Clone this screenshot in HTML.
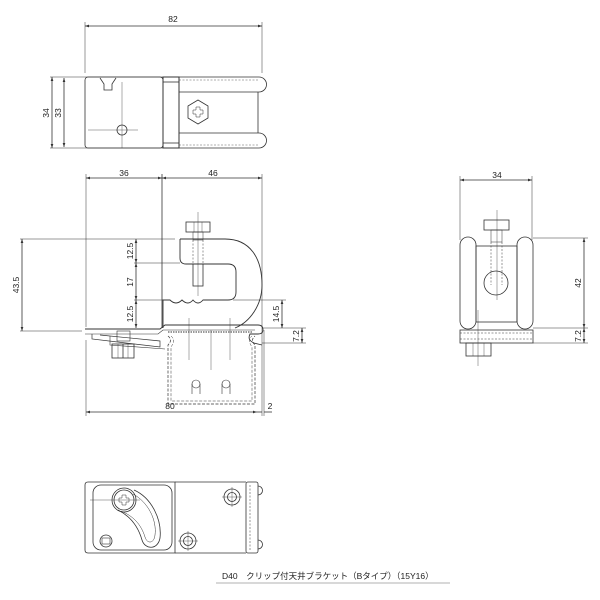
<!DOCTYPE html>
<html><head><meta charset="utf-8"><style>
html,body{margin:0;padding:0;background:#fff;}
svg{display:block;}
text{font-family:"Liberation Sans","Noto Sans CJK JP",sans-serif;font-size:8.5px;fill:#222;}
</style></head><body>
<svg width="600" height="600" viewBox="0 0 600 600" xmlns="http://www.w3.org/2000/svg">
<defs>
<marker id="a" viewBox="0 0 6 6" refX="6" refY="3" markerWidth="5" markerHeight="5" orient="auto-start-reverse"><path d="M0,1 L6,3 L0,5" fill="#333"/></marker>
</defs>
<g stroke="#333" stroke-width="0.8" fill="none">
<!-- ========== TOP VIEW ========== -->
<line x1="85" y1="26" x2="262" y2="26" marker-start="url(#a)" marker-end="url(#a)"/>
<line x1="85" y1="22" x2="85" y2="73" stroke-width="0.5"/>
<line x1="262" y1="22" x2="262" y2="73" stroke-width="0.5"/>
<line x1="50" y1="77" x2="163" y2="77" stroke-width="0.5"/>
<line x1="50" y1="148" x2="163" y2="148" stroke-width="0.5"/>
<line x1="52" y1="77" x2="52" y2="148" marker-start="url(#a)" marker-end="url(#a)"/>
<line x1="64" y1="78" x2="64" y2="147" marker-start="url(#a)" marker-end="url(#a)"/>
<rect x="85" y="77" width="78" height="71" rx="3"/>
<path d="M100,78 L104,84 L104,90 L112,90 L112,84 L116,78"/>
<circle cx="122" cy="130" r="5"/>
<line x1="122" y1="82" x2="122" y2="148" stroke-width="0.4"/>
<line x1="88" y1="130" x2="138" y2="130" stroke-width="0.4"/>
<rect x="163" y="77" width="16" height="71" stroke-width="1"/>
<line x1="163" y1="82" x2="179" y2="82"/>
<line x1="163" y1="143" x2="179" y2="143"/>
<path d="M179,77 L259,77 A6,6 0 0 1 259,92 L179,92"/>
<path d="M179,133 L259,133 A6,6 0 0 1 259,148 L179,148"/>
<line x1="258" y1="92" x2="258" y2="133"/>
<line x1="179" y1="80" x2="259" y2="80" stroke-dasharray="2,1.5" stroke-width="0.4"/>
<line x1="179" y1="145" x2="259" y2="145" stroke-dasharray="2,1.5" stroke-width="0.4"/>
<polygon points="198,100 208,106 208,118 198,124 188,118 188,106"/>
<path d="M196,107 h4 v3 h3 v4 h-3 v3 h-4 v-3 h-3 v-4 h3 z" stroke-width="0.5"/>
<!-- ========== FRONT VIEW ========== -->
<line x1="86" y1="178" x2="162" y2="178" marker-start="url(#a)" marker-end="url(#a)"/>
<line x1="162" y1="178" x2="262" y2="178" marker-start="url(#a)" marker-end="url(#a)"/>
<line x1="86" y1="174" x2="86" y2="327" stroke-width="0.5"/>
<line x1="86" y1="340" x2="86" y2="416" stroke-width="0.5"/>
<line x1="262" y1="174" x2="262" y2="416" stroke-width="0.5"/>
<line x1="264" y1="330" x2="264" y2="416" stroke-width="0.5"/>
<line x1="162" y1="174" x2="162" y2="328" stroke-width="0.8"/>
<line x1="86" y1="412" x2="257" y2="412" marker-start="url(#a)" marker-end="url(#a)"/>
<line x1="257" y1="412" x2="262" y2="412"/>
<line x1="264" y1="412" x2="272" y2="412"/>
<line x1="20" y1="239" x2="175" y2="239" stroke-width="0.5"/>
<line x1="20" y1="331" x2="82" y2="331" stroke-width="0.5"/>
<line x1="22" y1="239" x2="22" y2="331" marker-start="url(#a)" marker-end="url(#a)"/>
<line x1="134" y1="263" x2="180" y2="263" stroke-width="0.5"/>
<line x1="134" y1="300" x2="163" y2="300" stroke-width="0.5"/>
<line x1="136" y1="239" x2="136" y2="263" marker-start="url(#a)" marker-end="url(#a)"/>
<line x1="136" y1="263" x2="136" y2="300" marker-start="url(#a)" marker-end="url(#a)"/>
<line x1="136" y1="300" x2="136" y2="328" marker-start="url(#a)" marker-end="url(#a)"/>
<line x1="233" y1="300" x2="286" y2="300" stroke-width="0.5"/>
<line x1="262" y1="328" x2="306" y2="328" stroke-width="0.5"/>
<line x1="262" y1="343" x2="306" y2="343" stroke-width="0.5"/>
<line x1="282" y1="300" x2="282" y2="328" marker-start="url(#a)" marker-end="url(#a)"/>
<line x1="302" y1="328" x2="302" y2="343" marker-start="url(#a)" marker-end="url(#a)"/>
<!-- clamp -->
<path d="M180,239 L225,239 C250,239 262,258 262,285 C262,305 250,322 235,328" stroke-width="0.9"/>
<path d="M180,239 L180,258 Q180,264 186,264 L228,264 Q236,264 236,272 L236,292 Q236,300 228,300 L203,300 Q198,306 193,300 Q188,306 182,300 Q176,306 170,300 L163,300 L163,328" stroke-width="0.9"/>
<rect x="186" y="222" width="24" height="10"/>
<line x1="194" y1="222" x2="194" y2="232" stroke-width="0.4"/><line x1="202" y1="222" x2="202" y2="232" stroke-width="0.4"/>
<rect x="193" y="232" width="10" height="8" stroke-width="0.5"/>
<rect x="193" y="264" width="10" height="22"/>
<line x1="193" y1="240" x2="193" y2="264" stroke-dasharray="2,1.5" stroke-width="0.5"/>
<line x1="203" y1="240" x2="203" y2="264" stroke-dasharray="2,1.5" stroke-width="0.5"/>
<line x1="198" y1="212" x2="198" y2="296" stroke-width="0.4"/>
<!-- base -->
<path d="M85,329 L160,329 L165,325 L258,325 Q263,325 263,330 Q263,334 258,334 L250,334 Q247,340 254,343 L262,345" stroke-width="0.9"/>
<path d="M85,334 L158,334 L163,330 L255,330" stroke-width="0.6"/>
<path d="M92,334 L92,339 L160,347 L160,341 L100,335" stroke-width="0.7"/>
<path d="M110,336 L110,345 L165,349" stroke-width="0.6"/>
<line x1="168" y1="332" x2="252" y2="332" stroke-dasharray="1.5,1" stroke-width="2" stroke="#999"/>
<rect x="117" y="331" width="13" height="10" stroke-width="0.6"/>
<rect x="112" y="344" width="22" height="14"/>
<line x1="118" y1="344" x2="118" y2="358" stroke-width="0.4"/><line x1="123" y1="344" x2="123" y2="358"/><line x1="128" y1="344" x2="128" y2="358" stroke-width="0.4"/>
<path d="M168,336 Q173,340 168,345 L168,404 L255,404 L255,345 Q250,340 255,336" stroke-dasharray="3,1.5" stroke-width="0.7"/>
<path d="M171,336 Q176,340 171,347 L171,401 L252,401 L252,347 Q247,340 252,336" stroke-dasharray="3,1.5" stroke-width="0.5"/>
<circle cx="196" cy="384" r="4" stroke-width="0.6"/><circle cx="226" cy="384" r="4" stroke-width="0.6"/>
<line x1="192" y1="384" x2="192" y2="394" stroke-width="0.6"/><line x1="200" y1="384" x2="200" y2="394" stroke-width="0.6"/>
<line x1="222" y1="384" x2="222" y2="394" stroke-width="0.6"/><line x1="230" y1="384" x2="230" y2="394" stroke-width="0.6"/>
<line x1="211" y1="330" x2="211" y2="370" stroke-width="0.4"/>
<line x1="189" y1="318" x2="189" y2="360" stroke-width="0.4"/>
<line x1="230" y1="318" x2="230" y2="360" stroke-width="0.4"/>
<!-- ========== SIDE VIEW ========== -->
<line x1="460" y1="180" x2="532" y2="180" marker-start="url(#a)" marker-end="url(#a)"/>
<line x1="460" y1="176" x2="460" y2="240" stroke-width="0.5"/>
<line x1="532" y1="176" x2="532" y2="240" stroke-width="0.5"/>
<line x1="533" y1="238" x2="588" y2="238" stroke-width="0.5"/>
<line x1="533" y1="328" x2="588" y2="328" stroke-width="0.5"/>
<line x1="533" y1="343" x2="588" y2="343" stroke-width="0.5"/>
<line x1="584" y1="238" x2="584" y2="328" marker-start="url(#a)" marker-end="url(#a)"/>
<line x1="584" y1="328" x2="584" y2="343" marker-start="url(#a)" marker-end="url(#a)"/>
<rect x="460" y="237" width="16" height="92" rx="8"/>
<rect x="517" y="237" width="16" height="92" rx="8"/>
<rect x="476" y="246" width="41" height="76"/>
<circle cx="496" cy="283" r="12"/>
<rect x="484" y="220" width="25" height="10"/>
<rect x="491" y="230" width="11" height="12" stroke-width="0.5"/>
<line x1="491" y1="242" x2="491" y2="285" stroke-dasharray="2,1.5" stroke-width="0.5"/>
<line x1="502" y1="242" x2="502" y2="285" stroke-dasharray="2,1.5" stroke-width="0.5"/>
<line x1="497" y1="210" x2="497" y2="300" stroke-width="0.4"/>
<rect x="460" y="330" width="73" height="13"/>
<line x1="460" y1="333" x2="533" y2="333" stroke-dasharray="2,1.5" stroke-width="0.5"/>
<line x1="460" y1="339" x2="533" y2="339" stroke-dasharray="2,1.5" stroke-width="0.5"/>
<rect x="466" y="343" width="25" height="13"/>
<line x1="473" y1="343" x2="473" y2="356" stroke-width="0.4"/><line x1="484" y1="343" x2="484" y2="356" stroke-width="0.4"/>
<line x1="478" y1="310" x2="478" y2="366" stroke-width="0.4"/>
<!-- ========== BOTTOM VIEW ========== -->
<path d="M88,482 L175,482 L175,553 L88,553 Q85,553 85,550 L85,485 Q85,482 88,482 Z"/>
<rect x="93" y="485" width="79" height="65" rx="8"/>
<path d="M175,482 L246,482 M175,553 L246,553"/>
<rect x="246" y="482" width="12" height="71" rx="2"/>
<path d="M258,486 A4,4 0 0 1 258,495 M258,540 A4,4 0 0 1 258,549"/>
<line x1="250" y1="485" x2="250" y2="550" stroke-dasharray="2,1.5" stroke-width="0.5"/>
<circle cx="124" cy="500" r="12"/>
<circle cx="124" cy="500" r="10"/>
<path d="M122,495 h4 v3 h3 v4 h-3 v3 h-4 v-3 h-3 v-4 h3 z" stroke-width="0.5"/>
<path d="M134,490 C152,498 162,520 160,538 C158,550 145,550 142,540 C138,526 130,516 118,510"/>
<path d="M133,494 C148,502 157,520 155,535 C154,544 147,544 145,537 C141,524 133,516 121,511" stroke-width="0.5"/>
<circle cx="232" cy="497" r="8"/><circle cx="232" cy="497" r="4.5"/>
<circle cx="188" cy="541" r="8"/><circle cx="188" cy="541" r="4.5"/>
<line x1="222" y1="497" x2="242" y2="497" stroke-width="0.4"/><line x1="232" y1="487" x2="232" y2="507" stroke-width="0.4"/>
<line x1="178" y1="541" x2="198" y2="541" stroke-width="0.4"/><line x1="188" y1="531" x2="188" y2="551" stroke-width="0.4"/>
<line x1="90" y1="500" x2="140" y2="500" stroke-width="0.4"/>
<circle cx="106" cy="541" r="6"/>
<rect x="102" y="538" width="8" height="6" stroke-width="0.6"/>
<line x1="216" y1="583" x2="450" y2="583" stroke="#999"/>
</g>
<text x="173" y="22" text-anchor="middle">82</text>
<text x="49" y="113" text-anchor="middle" transform="rotate(-90 49 113)">34</text>
<text x="61" y="113" text-anchor="middle" transform="rotate(-90 61 113)">33</text>
<text x="124" y="176" text-anchor="middle">36</text>
<text x="213" y="176" text-anchor="middle">46</text>
<text x="19" y="285" text-anchor="middle" transform="rotate(-90 19 285)">43.5</text>
<text x="133" y="251" text-anchor="middle" transform="rotate(-90 133 251)">12.5</text>
<text x="133" y="282" text-anchor="middle" transform="rotate(-90 133 282)">17</text>
<text x="133" y="314" text-anchor="middle" transform="rotate(-90 133 314)">12.5</text>
<text x="279" y="314" text-anchor="middle" transform="rotate(-90 279 314)">14.5</text>
<text x="299" y="336" text-anchor="middle" transform="rotate(-90 299 336)">7.2</text>
<text x="170" y="409" text-anchor="middle">80</text>
<text x="270" y="409" text-anchor="middle">2</text>
<text x="497" y="178" text-anchor="middle">34</text>
<text x="581" y="283" text-anchor="middle" transform="rotate(-90 581 283)">42</text>
<text x="581" y="336" text-anchor="middle" transform="rotate(-90 581 336)">7.2</text>
<text x="222" y="579" style="font-size:8.5px">D40　クリップ付天井ブラケット（Bタイプ）（15Y16）</text>
</svg>
</body></html>
